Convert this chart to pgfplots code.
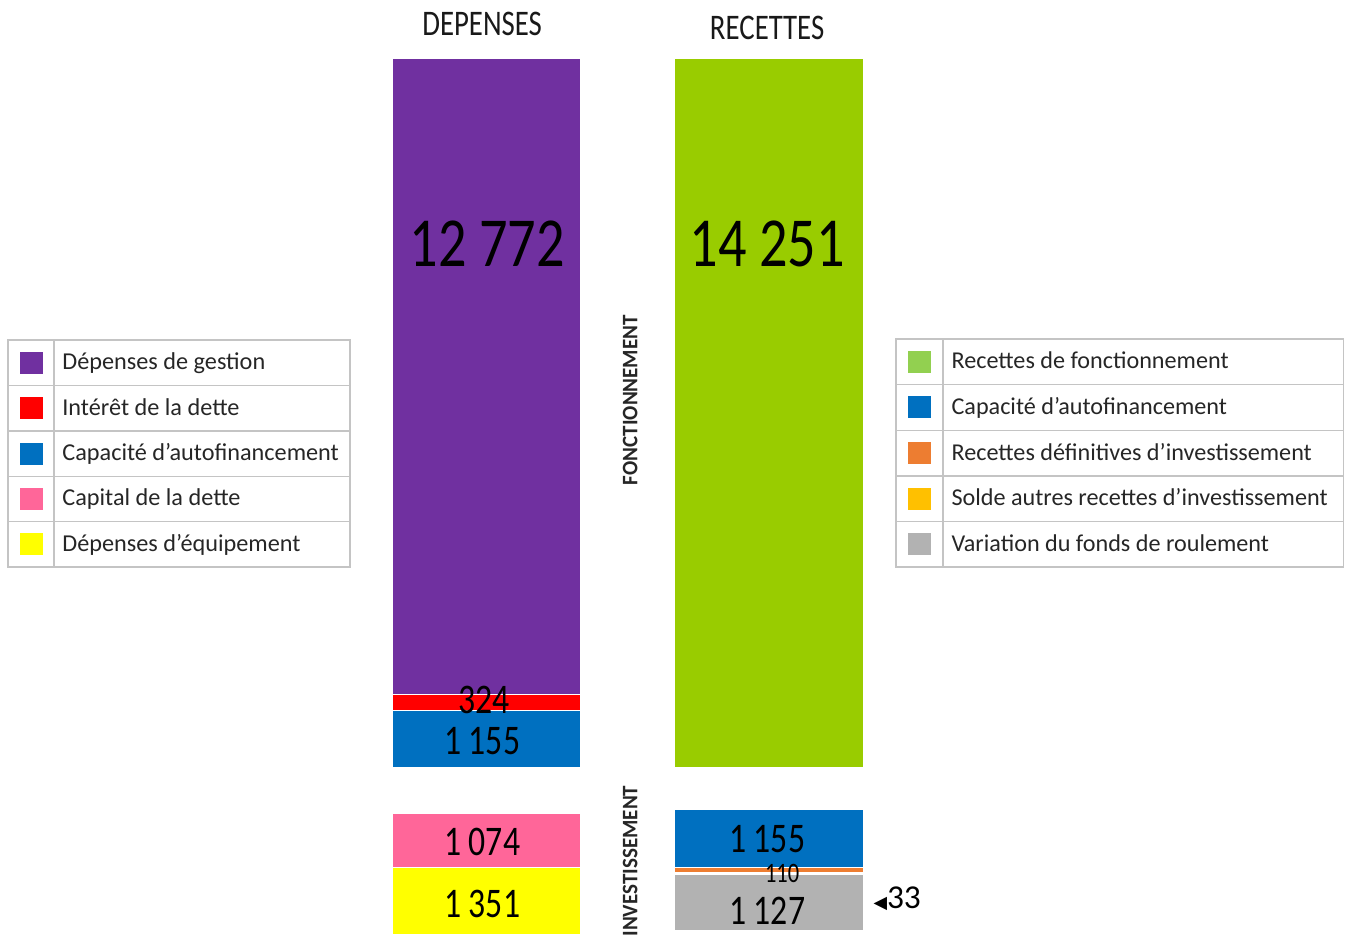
\documentclass[border=0pt]{standalone}
\usepackage{pgfplots}
\pgfplotsset{compat=1.18}
\usepackage{fontspec}
\setmainfont{Carlito}
\newfontfamily\narrowfont[FakeStretch=0.8]{Carlito}
\newfontfamily\vfont[FakeStretch=0.95]{Carlito}
\newfontfamily\dejavu{DejaVu Sans}

\definecolor{cViolet}{HTML}{7030A0}
\definecolor{cRouge}{HTML}{FF0000}
\definecolor{cBleu}{HTML}{0070C0}
\definecolor{cRose}{HTML}{FF6699}
\definecolor{cJaune}{HTML}{FFFF00}
\definecolor{cVert}{HTML}{99CC00}
\definecolor{cVertLeg}{HTML}{92D050}
\definecolor{cOrange}{HTML}{ED7D31}
\definecolor{cOr}{HTML}{FFC000}
\definecolor{cGris}{HTML}{B2B2B2}
\definecolor{cBord}{HTML}{C4C4C4}

\begin{document}
\begin{tikzpicture}
\useasboundingbox (0,0) rectangle (26.9cm,18.92cm);
\clip (0,0) rectangle (26.9cm,18.92cm);
\begin{axis}[
  at={(0,0)}, anchor=south west,
  scale only axis, width=26.9cm, height=18.92cm,
  xmin=0, xmax=1345,
  ymin=-1164, ymax=17824, y dir=reverse,
  axis lines=none,
  ybar stacked, bar width=3.78cm,
  every axis plot/.append style={draw=white, line width=0.8pt},
]
% DEPENSES (x=486.5) -- RECETTES (x=769)
\addplot[fill=cViolet] coordinates {(486.5,12772) (769,0)};
\addplot[fill=cRouge]  coordinates {(486.5,324) (769,0)};
\addplot[fill=cBleu]   coordinates {(486.5,1155) (769,0)};
\addplot[draw=none, fill=none] coordinates {(486.5,919) (769,0)};
\addplot[fill=cRose]   coordinates {(486.5,1074) (769,0)};
\addplot[fill=cJaune]  coordinates {(486.5,1351) (769,0)};
\addplot[fill=cVert]   coordinates {(486.5,0) (769,14251)};
\addplot[draw=none, fill=none] coordinates {(486.5,0) (769,839)};
\addplot[fill=cBleu]   coordinates {(486.5,0) (769,1155)};
\addplot[fill=cOrange] coordinates {(486.5,0) (769,110)};
\addplot[fill=cOr]     coordinates {(486.5,0) (769,33)};
\addplot[fill=cGris]   coordinates {(486.5,0) (769,1127)};
\end{axis}

\begin{scope}[x=0.02cm, y=-0.02cm, shift={(0,18.92cm)}]
% titres
\node[font=\narrowfont\fontsize{20.5}{20.5}\selectfont, text=black!90] at (482,24) {DEPENSES};
\node[font=\narrowfont\fontsize{20.5}{20.5}\selectfont, text=black!90] at (767,28) {RECETTES};
% etiquettes verticales
\node[rotate=90, font=\vfont\bfseries\fontsize{12.6}{12.6}\selectfont, text=black!85] at (630,400) {FONCTIONNEMENT};
\node[rotate=90, font=\vfont\bfseries\fontsize{12.6}{12.6}\selectfont, text=black!85] at (630,861) {INVESTISSEMENT};
% valeurs
\node[font=\narrowfont\fontsize{40}{40}\selectfont] at (487,244) {12 772};
\node[font=\narrowfont\fontsize{40}{40}\selectfont] at (767,244) {14 251};
\node[font=\narrowfont\fontsize{24}{24}\selectfont] at (484,700) {324};
\node[font=\narrowfont\fontsize{24}{24}\selectfont] at (482,741) {1 155};
\node[font=\narrowfont\fontsize{24}{24}\selectfont] at (482,842) {1 074};
\node[font=\narrowfont\fontsize{24}{24}\selectfont] at (482,904) {1 351};
\node[font=\narrowfont\fontsize{24}{24}\selectfont] at (767,839) {1 155};
\node[font=\narrowfont\fontsize{16}{16}\selectfont] at (782,873) {110};
\node[font=\narrowfont\fontsize{24}{24}\selectfont] at (767,911) {1 127};
\node[anchor=west, inner sep=0, font=\fontsize{19}{19}\selectfont] at (873,899) {{\dejavu\fontsize{10}{10}\selectfont ◀}33};

% legende gauche
\draw[cBord, line width=0.8pt] (8,340) rectangle (350,567);
\draw[cBord, line width=0.8pt] (54,340) -- (54,567);
\foreach \yy in {385.4,430.8,476.2,521.6} \draw[cBord, line width=0.8pt] (8,\yy) -- (350,\yy);
\foreach \c/\t [count=\i] in {cViolet/Dépenses de gestion, cRouge/Intérêt de la dette, cBleu/Capacité d’autofinancement, cRose/Capital de la dette, cJaune/Dépenses d’équipement}{
  \pgfmathsetmacro{\yc}{340+45.4*(\i-0.5)}
  \fill[\c] (20,\yc-11) rectangle (43,\yc+11);
  \node[anchor=base west, inner sep=0, font=\fontsize{13.8}{13.8}\selectfont, text=black!85] at (62,\yc+7) {\t};
}
% legende droite
\draw[cBord, line width=0.8pt] (896,339) rectangle (1343,567);
\draw[cBord, line width=0.8pt] (943,339) -- (943,567);
\foreach \yy in {384.6,430.2,475.8,521.4} \draw[cBord, line width=0.8pt] (896,\yy) -- (1343,\yy);
\foreach \c/\t [count=\i] in {cVertLeg/Recettes de fonctionnement, cBleu/Capacité d’autofinancement, cOrange/Recettes définitives d’investissement, cOr/Solde autres recettes d’investissement, cGris/Variation du fonds de roulement}{
  \pgfmathsetmacro{\yc}{339+45.6*(\i-0.5)}
  \fill[\c] (908,\yc-11) rectangle (931,\yc+11);
  \node[anchor=base west, inner sep=0, font=\fontsize{13.75}{13.75}\selectfont, text=black!85] at (951,\yc+7) {\t};
}
\end{scope}
\end{tikzpicture}
\end{document}
